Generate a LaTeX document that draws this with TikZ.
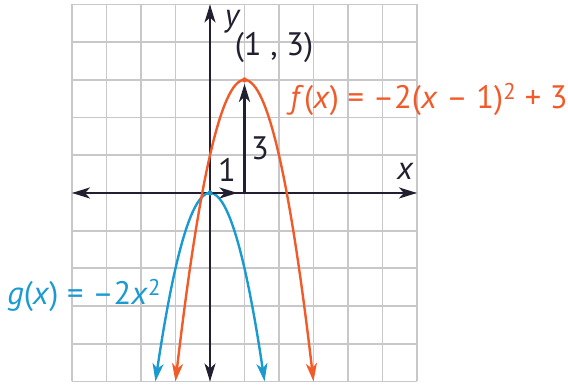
\documentclass[tikz,border=0pt]{standalone}
\usepackage{fontspec}
\setmainfont{PT Sans}
\usepackage{tikz}
\usetikzlibrary{positioning,arrows.meta}
\definecolor{fcol}{HTML}{F15A29}
\definecolor{gcol}{HTML}{1B9AD2}
\definecolor{ink}{HTML}{231F30}
\definecolor{gridcol}{HTML}{C8C8CA}
\newcommand{\lbl}{\fontsize{32.5}{36}\selectfont}

\begin{document}
\begin{tikzpicture}[
  gridline/.style={draw=gridcol,line width=1.8pt},
  axis/.style={{Stealth[length=18pt,width=11pt,inset=5pt]}-{Stealth[length=18pt,width=11pt,inset=5pt]},line width=2.4pt,ink},
  curve/.style={{Stealth[length=18pt,width=11pt,inset=5pt]}-{Stealth[length=18pt,width=11pt,inset=5pt]},line width=2.4pt,samples=80,smooth},
  arr/.style={-{Stealth[length=18pt,width=11pt,inset=5pt]},line width=2.4pt,ink},
  txt/.style={inner sep=0pt,font=\lbl,text=ink},
  x=34.5pt,y=37.7pt]
\useasboundingbox (-6.087,-5.146) rectangle (10.377,5.119);
\draw[gridline] (-4,-5) grid[xstep=1,ystep=1] (6,5);
\coordinate (o) at (0,0);
\coordinate (xl) at (-4,0);
\coordinate (xr) at (6,0);
\coordinate (yb) at (0,-5);
\coordinate (yt) at (0,5);
\coordinate (p1) at (1,0);
\coordinate (v) at (1,3);
\draw[axis] (xl)--(xr);
\draw[axis] (yb)--(yt);
\draw[curve,gcol] plot[domain=-1.5811:1.5811] (\x,{-2*\x*\x});
\draw[curve,fcol] plot[domain=-1:3] (\x,{-2*(\x-1)*(\x-1)+3});
\draw[arr,shorten >=7pt] (o)--(p1);
\draw[arr,shorten >=4pt] (p1)--(v);
\fill[fcol] (v) circle (2.6pt);
\fill[gcol] (o) circle (2.6pt);
\node[txt,font=\lbl\itshape] (ylab) at (0.64,4.54) {y};
\node[txt,font=\lbl\itshape] (xlab) at (5.65,0.56) {x};
\node[txt] (vlab) at (1.855,3.85) {(1 , 3)};
\node[txt] (one) at (0.49,0.61) {1};
\node[txt] (three) at (1.45,1.19) {3};
\node[txt,text=fcol,anchor=west] (flab) at (2.32,2.49)
  {\textit{f}(\textit{x}) = –2(\textit{x} – 1)\textsuperscript{2} + 3};
\node[txt,text=gcol,anchor=west] (glab) at (-5.88,-2.71)
  {\textit{g}(\textit{x}) = –2\textit{x}\textsuperscript{2}};
\end{tikzpicture}
\end{document}
